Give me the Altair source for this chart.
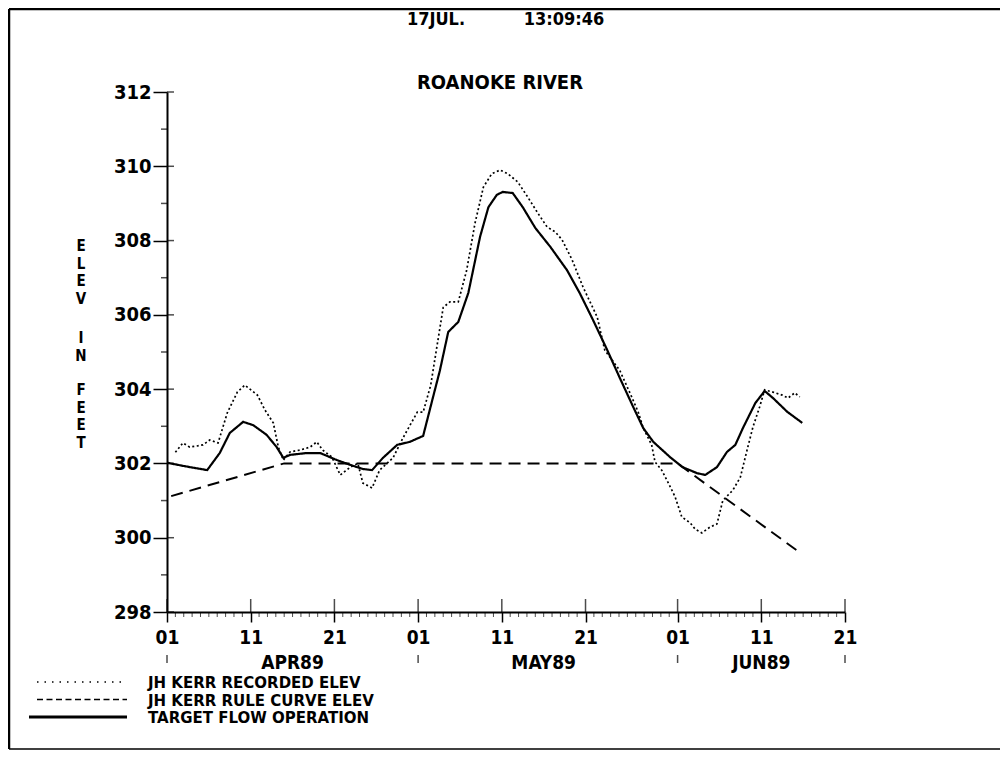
import altair as alt
import pandas as pd

START = pd.Timestamp("1989-04-01")
END = pd.Timestamp("1989-06-21")

# ---- data (day offset from 01APR89, elevation in feet) ----
REC_DAY = [1.0, 1.9, 2.7, 3.6, 4.3, 5.1, 6.1, 7.2, 8.4, 9.3, 10.8, 11.7, 12.7, 13.3, 13.9,
           14.7, 15.9, 17.1, 17.9, 18.6, 19.7, 20.7, 21.9, 22.8, 23.4, 24.5, 25.4, 27.0, 28.2,
           29.9, 30.6, 31.5, 33.0, 33.8, 34.8, 35.8, 36.8, 37.8, 38.8, 39.8, 40.7, 41.9, 43.1,
           44.3, 45.4, 46.4, 47.2, 48.4, 49.7, 51.4, 52.3, 54.1, 55.5, 56.3, 56.9, 57.9, 58.3,
           59.1, 59.9, 60.7, 61.5, 62.5, 63.1, 63.9, 64.9, 65.7, 66.4, 67.6, 68.5, 69.3, 70.0,
           70.8, 71.4, 72.4, 73.5, 74.2, 75.0, 75.6]
REC_ELEV = [302.30, 302.55, 302.44, 302.47, 302.50, 302.63, 302.55, 303.36, 303.92, 304.11,
            303.84, 303.44, 303.09, 302.44, 302.09, 302.31, 302.36, 302.44, 302.58, 302.36,
            302.17, 301.69, 301.90, 302.00, 301.47, 301.34, 301.82, 302.15, 302.69, 303.38,
            303.38, 304.10, 306.20, 306.35, 306.35, 307.20, 308.47, 309.44, 309.80, 309.90,
            309.80, 309.58, 309.17, 308.74, 308.37, 308.23, 308.02, 307.48, 306.75, 305.94,
            305.05, 304.50, 303.80, 303.38, 302.95, 302.50, 302.04, 301.82, 301.47, 301.10,
            300.56, 300.40, 300.23, 300.13, 300.29, 300.37, 301.00, 301.28, 301.63, 302.36,
            302.98, 303.52, 303.98, 303.92, 303.84, 303.76, 303.90, 303.79]

RULE_DAY = [0.5, 14.0, 61.0, 75.3]
RULE_ELEV = [301.12, 302.0, 302.0, 299.65]

TGT_DAY = [0.0, 2.0, 4.8, 6.3, 7.5, 9.1, 10.3, 11.9, 13.1, 13.9, 14.7, 16.7, 18.3, 20.3, 21.9,
           23.4, 24.5, 25.8, 27.5, 29.0, 30.6, 31.8, 32.6, 33.6, 34.8, 36.0, 37.4, 38.4, 39.4,
           40.1, 41.3, 42.5, 44.0, 45.8, 47.8, 49.3, 50.9, 52.6, 54.1, 55.7, 56.9, 58.1, 60.1,
           61.6, 63.3, 64.3, 65.7, 66.9, 67.9, 68.8, 70.3, 71.4, 72.4, 74.1, 75.9]
TGT_ELEV = [302.02, 301.93, 301.82, 302.28, 302.82, 303.12, 303.03, 302.77, 302.44, 302.15,
            302.23, 302.28, 302.28, 302.09, 301.96, 301.85, 301.82, 302.15, 302.50, 302.58,
            302.74, 303.80, 304.50, 305.54, 305.81, 306.59, 308.10, 308.90, 309.23, 309.31,
            309.28, 308.90, 308.34, 307.83, 307.20, 306.59, 305.86, 305.05, 304.30, 303.52,
            302.95, 302.58, 302.17, 301.90, 301.74, 301.69, 301.90, 302.31, 302.50, 302.95,
            303.63, 303.95, 303.76, 303.39, 303.09]

SERIES = ["JH KERR RECORDED ELEV", "JH KERR RULE CURVE ELEV", "TARGET FLOW OPERATION"]
Y_MAJOR = [298, 300, 302, 304, 306, 308, 310, 312]
Y_MINOR = [299, 301, 303, 305, 307, 309, 311]
X_MAJOR_DAY = [0, 10, 20, 30, 40, 50, 61, 71, 81]
MONTH_START_DAY = [0, 30, 61, 81]
MONTH_LABELS = ["APR89", "MAY89", "JUN89"]
MONTH_LABEL_DAY = [15, 45, 71]
TITLE = "ROANOKE RIVER"
HEADER_PARTS = ["17JUL.", "13:09:46"]
Y_TITLE_WORDS = ["ELEV", "IN", "FEET"]

FONT = "DejaVu Sans Condensed"
W, H = 678, 520


def to_date(days):
    return [START + pd.Timedelta(days=float(d)) for d in days]


def dt(ts):
    return alt.DateTime(year=ts.year, month=ts.month, date=ts.day)


lines_df = pd.concat([
    pd.DataFrame({"series": SERIES[0], "date": to_date(REC_DAY), "elev": REC_ELEV}),
    pd.DataFrame({"series": SERIES[1], "date": to_date(RULE_DAY), "elev": RULE_ELEV}),
    pd.DataFrame({"series": SERIES[2], "date": to_date(TGT_DAY), "elev": TGT_ELEV}),
], ignore_index=True)

x_scale = alt.Scale(domain=[dt(START), dt(END)])
y_scale = alt.Scale(domain=[298, 312], nice=False, zero=False)

x_major_dates = [START + pd.Timedelta(days=d) for d in X_MAJOR_DAY]

X_AXIS = alt.Axis(values=[dt(d) for d in x_major_dates], format="%d",
                  tickSize=10, tickWidth=1.5, domainWidth=2, labelPadding=6,
                  labelFont=FONT, labelFontWeight="bold", labelFontSize=19,
                  labelFlush=False, labelOverlap=False, grid=False,
                  labelColor="black", tickColor="black", domainColor="black")
Y_AXIS = alt.Axis(values=Y_MAJOR, tickSize=14, tickWidth=1.5, domainWidth=2,
                  labelPadding=2, labelFont=FONT, labelFontWeight="bold",
                  labelFontSize=20, grid=False, labelColor="black",
                  tickColor="black", domainColor="black")


def X(field="date"):
    return alt.X(f"{field}:T", scale=x_scale, axis=X_AXIS, title=None)


def Y(field="elev"):
    return alt.Y(f"{field}:Q", scale=y_scale, axis=Y_AXIS, title=None)


lines = alt.Chart(lines_df).mark_line(color="black").encode(
    x=X(), y=Y(),
    strokeDash=alt.StrokeDash("series:N", scale=alt.Scale(domain=SERIES,
                              range=[[2, 2.5], [12, 7], [1, 0]]), legend=None),
    strokeWidth=alt.StrokeWidth("series:N", scale=alt.Scale(domain=SERIES,
                                range=[1.7, 2.2, 2.6]), legend=None),
    detail="series:N",
)

# inner half of major y ticks
y_major_in = alt.Chart(pd.DataFrame({"elev": Y_MAJOR})).mark_tick(
    orient="horizontal", size=7, thickness=1.5, color="black").encode(
    y=Y(), x=alt.value(3.5))
# minor y ticks (outside)
y_minor = alt.Chart(pd.DataFrame({"elev": Y_MINOR})).mark_tick(
    orient="horizontal", size=6, thickness=1.5, color="black").encode(
    y=Y(), x=alt.value(-3))

# upward part of major x ticks
x_major_up = alt.Chart(pd.DataFrame({"date": x_major_dates})).mark_tick(
    orient="vertical", size=13, thickness=1.5, color="black").encode(
    x=X(), y=alt.value(H - 6.5))
# daily minor x ticks
minor_days = [d for d in range(1, 81) if d not in X_MAJOR_DAY]
x_minor = alt.Chart(pd.DataFrame({"date": to_date(minor_days)})).mark_tick(
    orient="vertical", size=5, thickness=1, color="black").encode(
    x=X(), y=alt.value(H + 2.5))

# month boundary marks and month labels
month_marks = alt.Chart(pd.DataFrame({"date": to_date(MONTH_START_DAY)})).mark_tick(
    orient="vertical", size=8, thickness=1.5, color="black").encode(
    x=X(), y=alt.value(H + 47))
month_text = alt.Chart(pd.DataFrame({"date": to_date(MONTH_LABEL_DAY),
                                     "label": MONTH_LABELS})).mark_text(
    font=FONT, fontWeight="bold", fontSize=19, baseline="alphabetic", align="center",
    color="black").encode(x=X(), y=alt.value(H + 57), text="label:N")

one = pd.DataFrame({"k": [0]})

title_text = alt.Chart(one).mark_text(
    font=FONT, fontWeight="bold", fontSize=20, baseline="alphabetic", align="center",
    color="black").encode(x=alt.value(333), y=alt.value(-3), text=alt.value(TITLE))

header_layers = [
    alt.Chart(one).mark_text(
        font=FONT, fontWeight="bold", fontSize=18, baseline="alphabetic", align="center",
        color="black").encode(x=alt.value(xx), y=alt.value(-67), text=alt.value(t))
    for t, xx in zip(HEADER_PARTS, [269, 397])
]

# stacked vertical axis title, one word per block
ytitle_layers = [
    alt.Chart(one).mark_text(
        font=FONT, fontWeight="bold", fontSize=15, baseline="top", align="center",
        lineBreak="\n", lineHeight=17.7, color="black").encode(
        x=alt.value(-86), y=alt.value(yy), text=alt.value("\n".join(word)))
    for word, yy in zip(Y_TITLE_WORDS, [147, 239, 291])
]

# legend
legend_layers = []
leg_dash = [[1.5, 6], [6, 3.5], [1, 0]]
leg_width = [1.5, 1.5, 3]
leg_x0 = [-130, -130, -138]
for i, name in enumerate(SERIES):
    yy = 590 + 17.5 * i
    legend_layers.append(alt.Chart(one).mark_rule(
        color="black", strokeDash=leg_dash[i], strokeWidth=leg_width[i]).encode(
        x=alt.value(leg_x0[i]), x2=alt.value(-40), y=alt.value(yy)))
    legend_layers.append(alt.Chart(one).mark_text(
        font="DejaVu Sans", fontWeight="bold", fontSize=15, baseline="alphabetic",
        align="left", color="black").encode(
        x=alt.value(-19), y=alt.value(yy + 6), text=alt.value(name)))

# page frame
frame = [
    alt.Chart(one).mark_rule(color="black", strokeWidth=2.5).encode(
        x=alt.value(-158), x2=alt.value(833), y=alt.value(-83)),
    alt.Chart(one).mark_rule(color="black", strokeWidth=2.5).encode(
        x=alt.value(-158), y=alt.value(-83), y2=alt.value(657)),
    alt.Chart(one).mark_rule(color="black", strokeWidth=1.5).encode(
        x=alt.value(-158), x2=alt.value(833), y=alt.value(657)),
]

chart = alt.layer(
    lines, y_major_in, y_minor, x_major_up, x_minor, month_marks, month_text,
    title_text, *header_layers, *ytitle_layers, *legend_layers, *frame
).properties(
    width=W, height=H,
    autosize=alt.AutoSizeParams(type="none"),
    padding={"left": 159, "top": 84, "right": 155, "bottom": 138},
    background="white",
).configure_view(stroke=None)

chart.save("out.html", embed_options={"renderer": "svg", "actions": False})
